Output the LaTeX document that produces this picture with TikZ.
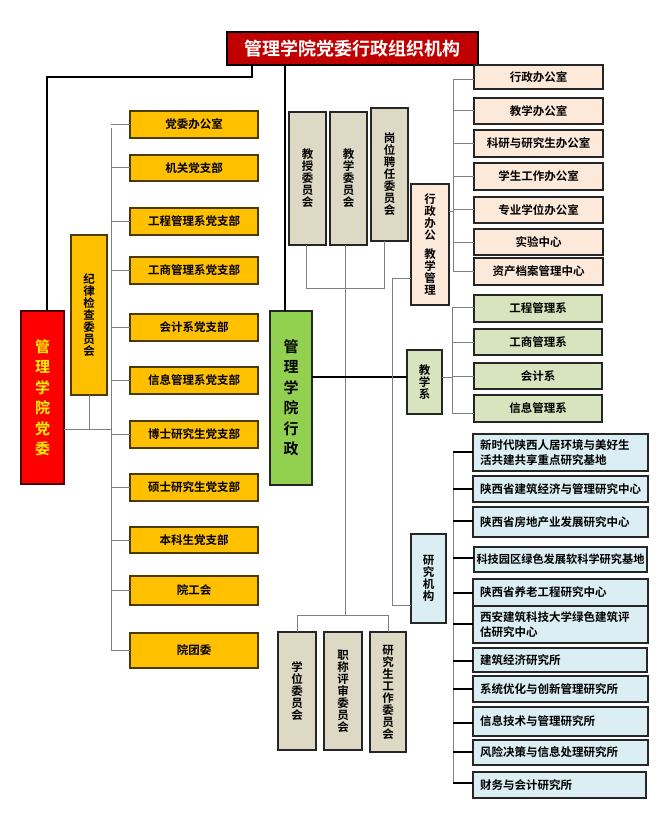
\documentclass[tikz,border=0pt]{standalone}
\usepackage{fontspec}
\newfontfamily\cjk{Noto Sans CJK SC}[BoldFont={Noto Sans CJK SC Bold}]
\definecolor{cTitle}{HTML}{C00000}
\definecolor{cOrange}{HTML}{FFC000}
\definecolor{cOrangeB}{HTML}{4A3A00}
\definecolor{cRed}{HTML}{FF0000}
\definecolor{cGreen}{HTML}{92D050}
\definecolor{cTan}{HTML}{DDD9C4}
\definecolor{cPeach}{HTML}{FDE9D9}
\definecolor{cOlive}{HTML}{D7E4BD}
\definecolor{cBlue}{HTML}{DBEEF4}
\definecolor{cLine}{HTML}{7F7F7F}
\tikzset{
  base/.style={draw=black!85, line width=1.1pt, inner sep=0pt, outer sep=0pt,
    font=\cjk\bfseries\fontsize{11.5}{12}\selectfont, align=center, text=black},
  titlebox/.style={base, fill=cTitle, line width=1.6pt, draw=black, text=white,
    font=\cjk\bfseries\fontsize{18}{20}\selectfont},
  orangebox/.style={base, fill=cOrange, draw=cOrangeB},
  redbox/.style={base, fill=cRed, draw=black!70!red, text=yellow,
    font=\cjk\bfseries\fontsize{15}{20.5}\selectfont},
  greenbox/.style={base, fill=cGreen, font=\cjk\bfseries\fontsize{15}{20.5}\selectfont},
  tanbox/.style={base, fill=cTan},
  peachbox/.style={base, fill=cPeach},
  olivebox/.style={base, fill=cOlive},
  bluebox/.style={base, fill=cBlue},
  rbox/.style={bluebox, align=left, inner xsep=7pt, text width=#1},
  rbox2/.style={rbox=#1, font=\cjk\bfseries\fontsize{11.5}{15.5}\selectfont},
  gline/.style={draw=cLine, line width=1pt},
  kline/.style={draw=black, line width=1.6pt},
  tline/.style={draw=black, line width=2pt},
}
\newcommand\bx[7]{\node[#6, anchor=north west, minimum width=#4pt, minimum height=#5pt] (#1) at (#2,#3) {#7};}
\begin{document}
\begin{tikzpicture}[x=1pt,y=-1pt]
\useasboundingbox (0,0) rectangle (668,818);
% title
\bx{title}{227}{32}{251}{33}{titlebox}{管理学院党委行政组织机构}
% main boxes
\bx{red}{21}{311}{43}{173}{redbox}{管\\理\\学\\院\\党\\委}
\bx{green}{270}{311}{42}{174}{greenbox}{管\\理\\学\\院\\行\\政}
\bx{jilv}{71}{235}{36}{160}{orangebox}{纪\\律\\检\\查\\委\\员\\会}
% party branches
\bx{dw1}{130}{111}{128}{27}{orangebox}{党委办公室}
\bx{dw2}{130}{155}{128}{26}{orangebox}{机关党支部}
\bx{dw3}{130}{208}{128}{27}{orangebox}{工程管理系党支部}
\bx{dw4}{130}{257}{128}{27}{orangebox}{工商管理系党支部}
\bx{dw5}{130}{314}{128}{27}{orangebox}{会计系党支部}
\bx{dw6}{130}{367}{128}{27}{orangebox}{信息管理系党支部}
\bx{dw7}{130}{421}{128}{27}{orangebox}{博士研究生党支部}
\bx{dw8}{130}{474}{128}{27}{orangebox}{硕士研究生党支部}
\bx{dw9}{130}{527}{128}{26}{orangebox}{本科生党支部}
\bx{dw10}{130}{576}{128}{29}{orangebox}{院工会}
\bx{dw11}{130}{633}{128}{35}{orangebox}{院团委}
% committees top
\bx{js}{289}{112}{37}{133}{tanbox}{教\\授\\委\\员\\会}
\bx{jx}{330}{112}{37}{133}{tanbox}{教\\学\\委\\员\\会}
\bx{gw}{371}{108}{37}{133}{tanbox}{岗\\位\\聘\\任\\委\\员\\会}
% committees bottom
\bx{xw}{278}{632}{38}{118}{tanbox}{学\\位\\委\\员\\会}
\bx{zc}{324}{632}{38}{118}{tanbox}{职\\称\\评\\审\\委\\员\\会}
\bx{yjs}{370}{632}{36}{120}{tanbox}{研\\究\\生\\工\\作\\委\\员\\会}
% middle units
\bx{xzgl}{411}{184}{38}{121}{peachbox}{行\\政\\办\\公\\[7pt]教\\学\\管\\理}
\bx{jxx}{407}{350}{35}{64}{olivebox}{教\\学\\系}
\bx{yjjg}{411}{534}{35}{89}{bluebox}{研\\究\\机\\构}
% offices
\bx{o1}{474}{65}{129}{24}{peachbox}{行政办公室}
\bx{o2}{474}{98}{129}{26}{peachbox}{教学办公室}
\bx{o3}{474}{130}{129}{27}{peachbox}{科研与研究生办公室}
\bx{o4}{474}{163}{129}{27}{peachbox}{学生工作办公室}
\bx{o5}{474}{197}{129}{26}{peachbox}{专业学位办公室}
\bx{o6}{474}{229}{129}{26}{peachbox}{实验中心}
\bx{o7}{474}{258}{129}{27}{peachbox}{资产档案管理中心}
% departments
\bx{d1}{474}{295}{128}{27}{olivebox}{工程管理系}
\bx{d2}{474}{329}{128}{26}{olivebox}{工商管理系}
\bx{d3}{474}{363}{128}{26}{olivebox}{会计系}
\bx{d4}{474}{395}{128}{27}{olivebox}{信息管理系}
% research
\bx{r1}{473}{434}{175}{37}{rbox2=161pt}{新时代陕西人居环境与美好生\\活共建共享重点研究基地}
\bx{r2}{473}{476}{175}{26}{rbox=161pt}{陕西省建筑经济与管理研究中心}
\bx{r3}{473}{507}{175}{30}{rbox=161pt}{陕西省房地产业发展研究中心}
\bx{r4}{474}{547}{173}{25}{bluebox, font=\cjk\bfseries\fontsize{11.2}{12}\selectfont}{科技园区绿色发展软科学研究基地}
\bx{r5}{473}{579}{175}{27}{rbox=161pt}{陕西省养老工程研究中心}
\bx{r6}{473}{606}{175}{37}{rbox2=161pt}{西安建筑科技大学绿色建筑评\\估研究中心}
\bx{r7}{473}{648}{174}{24}{rbox=160pt}{建筑经济研究所}
\bx{r8}{473}{676}{175}{26}{rbox=161pt}{系统优化与创新管理研究所}
\bx{r9}{473}{707}{175}{29}{rbox=161pt}{信息技术与管理研究所}
\bx{r10}{473}{740}{175}{25}{rbox=161pt}{风险决策与信息处理研究所}
\bx{r11}{473}{772}{173}{26}{rbox=159pt}{财务与会计研究所}
% ---- connectors ----
% title to red and green
\draw[kline] ([xshift=25pt]title.south west) -- ++(0,12) -| ([xshift=26pt]red.north west);
\draw[kline] ([xshift=15pt]green.north west |- title.south) -- ([xshift=15pt]green.north west);
% party bus
\coordinate (pbusTop) at (111,128);
\coordinate (pbusBot) at (111,651);
\draw[gline] (pbusTop) -- (pbusBot);
\foreach \n in {dw1,dw2,dw3,dw4,dw5,dw6,dw7,dw8,dw9,dw10,dw11}
  \draw[gline] (\n.west -| pbusTop) -- (\n.west);
\coordinate (redJ) at (111,429);
\draw[gline] (red.east |- redJ) -- (redJ);
\draw[gline] (jilv.south) -- (jilv.south |- redJ);
% top committees
\draw[gline] ([xshift=-1pt]js.south) -- ++(0,43) -| ([xshift=-5pt]gw.south);
\coordinate (cbus) at (345,615);
\draw[gline] ([xshift=-3pt]jx.south) -- ([xshift=-3pt]jx.south |- cbus);
\draw[gline] (xw.north |- cbus) -- (xw.north);
\draw[gline] (yjs.north |- cbus) -- (yjs.north);
\draw[gline] (xw.north |- cbus) -- (yjs.north |- cbus);
% green to teaching dept
\draw[kline, line width=1.2pt] (green.east |- 0,377) -- (jxx.west |- 0,377);
% vertical link to admin/teaching mgmt and research
\coordinate (vTop) at (392,278);
\coordinate (vBot) at (392,605);
\draw[gline] (xzgl.west |- vTop) -- (vTop) -- (vBot) -- (yjjg.west |- vBot);
% offices bus
\coordinate (obusTop) at (453,80);
\coordinate (obusBot) at (453,271);
\draw[gline] (obusTop) -- (obusBot);
\draw[gline] (obusTop) -- (o1.west |- obusTop);
\foreach \n in {o2,o3,o4,o5,o6}
  \draw[gline] (\n.west -| obusTop) -- (\n.west);
\draw[gline] (obusBot) -- (o7.west |- obusBot);
\draw[gline] (xzgl.east |- 0,212) -- (453,212);
% departments bus
\coordinate (dbusTop) at (452,307);
\coordinate (dbusBot) at (452,413);
\draw[gline] (dbusTop) -- (dbusBot);
\draw[gline] (dbusTop) -- (d1.west |- dbusTop);
\draw[gline] (d2.west -| dbusTop) -- (d2.west);
\draw[gline] (d3.west -| dbusTop) -- (d3.west);
\draw[gline] (dbusBot) -- (d4.west |- dbusBot);
\draw[gline] (jxx.east |- 0,377) -- (452,377);
% research bus
\coordinate (rbusTop) at (453,452);
\coordinate (rbusBot) at (453,783);
\draw[gline] (rbusTop) -- (rbusBot);
\foreach \n/\yy in {r1/452,r2/489,r3/521,r4/558,r5/593,r6/624,r7/661,r8/689,r9/723,r10/752,r11/783}
  \draw[tline] (453,\yy) -- (\n.west |- 0,\yy);
\end{tikzpicture}
\end{document}
